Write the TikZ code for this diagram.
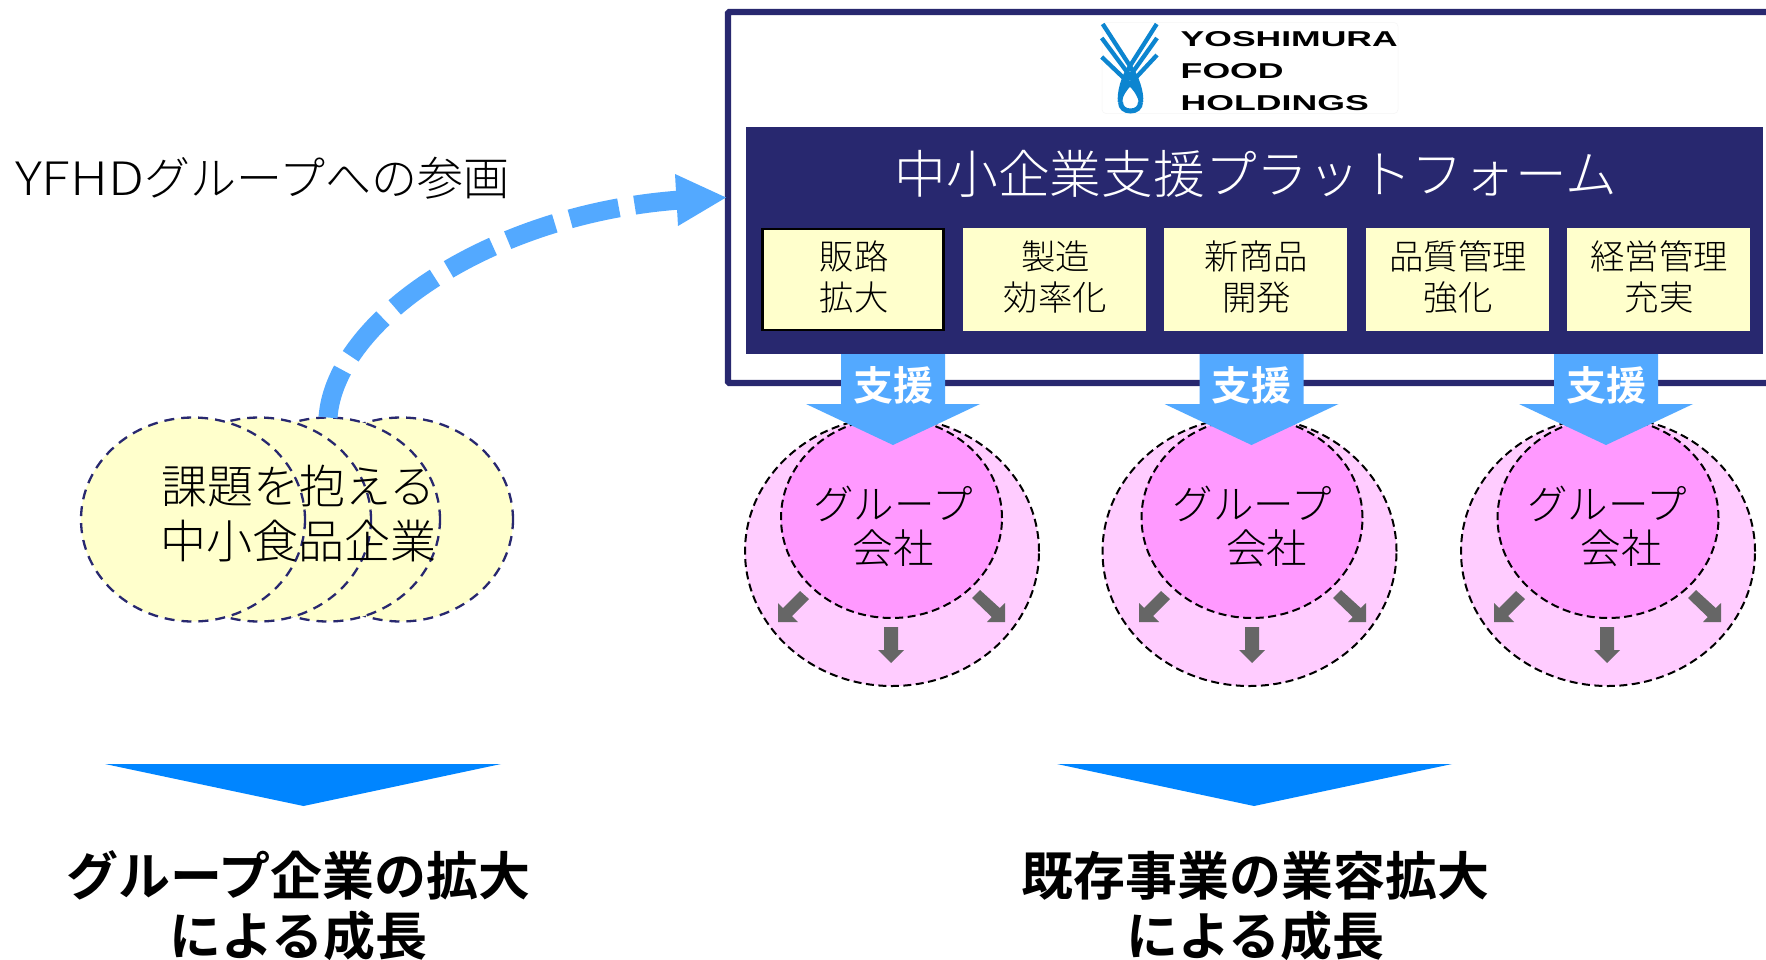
\documentclass[tikz,border=0pt]{standalone}
\usepackage{fontspec}
\usepackage{graphicx}
\usetikzlibrary{shapes.geometric,arrows.meta}
\setmainfont{Noto Sans CJK JP Light}[BoldFont=Noto Sans CJK JP Bold]
\newfontfamily\logofont{Liberation Sans}[BoldFont=Liberation Sans Bold]
\definecolor{navy}{HTML}{28286F}
\definecolor{skyb}{HTML}{53A9FF}
\definecolor{pink}{HTML}{FF99FF}
\definecolor{paleP}{HTML}{FFCCFF}
\definecolor{paleY}{HTML}{FFFFCC}
\definecolor{deepb}{HTML}{0085FF}
\definecolor{grayA}{HTML}{666666}
\definecolor{logoB}{HTML}{0C85D0}
\newcommand{\fs}[2]{\fontsize{#1}{#2}\selectfont}
\newcommand{\ct}[1]{\hspace*{2pt}\raisebox{2.5pt}[\height][\depth]{\parbox{178pt}{\centering #1}}}
\tikzset{
  yellowc/.style={ellipse,draw=navy,fill=paleY,line width=2.3pt,dash pattern=on 10pt off 7pt,minimum width=224pt,minimum height=204pt,inner sep=0pt,outer sep=0pt},
  outerc/.style={ellipse,draw=black,fill=paleP,line width=2pt,dash pattern=on 8pt off 4.5pt,minimum width=294pt,minimum height=269pt,inner sep=0pt,outer sep=0pt},
  innerc/.style={ellipse,draw=black,fill=pink,line width=2pt,dash pattern=on 8pt off 4.5pt,minimum width=221pt,minimum height=200pt,inner sep=0pt,outer sep=0pt},
  cellbox/.style={rectangle,fill=paleY,minimum width=183pt,minimum height=103pt,inner sep=0pt,outer sep=0pt,font=\fs{34.4}{41.5}},
  grouptext/.style={align=center,font=\fs{40.5}{44.5},inner sep=0pt},
  bigbold/.style={align=center,font=\fs{52}{60}\bfseries,inner sep=0pt},
  logotext/.style={anchor=west,inner sep=0pt,font=\logofont\bfseries},
  strand/.style={draw=logoB,line width=4.3pt},
}
\newcommand{\grp}[7]{%
  % #1 id, #2 outer cx, #3 inner cx, #4 blue arrow cx, #5 gray cx, #6 text cx, #7 shift of 2nd line
  \node[outerc] (out#1) at (#2,551.5) {};
  \node[innerc] (in#1) at (#3,518) {};
  \node[grouptext] (gt#1) at (#6,526.5) {グループ\\\hspace*{#7pt}会社};
  \fill[grayA] (#5-7,627) -- (#5+7,627) -- (#5+7,650) -- (#5+13,650) -- (#5,663) -- (#5-13,650) -- (#5-7,650) -- cycle;
  \fill[grayA] (#5-113,622) -- (#5-93,622) -- (#5-99,616) -- (#5-82,599) -- (#5-91,591) -- (#5-108,608) -- (#5-113,603) -- cycle;
  \fill[grayA] (#5+114,622) -- (#5+96,622) -- (#5+100.7,617) -- (#5+81,598) -- (#5+89,590) -- (#5+108.7,608) -- (#5+114,603) -- cycle;
  \fill[skyb] (#4-52,354) -- (#4+52,354) -- (#4+52,404) -- (#4+87,404) -- (#4,445) -- (#4-87,404) -- (#4-52,404) -- cycle;
  \node[text=white,font=\fs{40}{40}\bfseries,inner sep=0pt] (sup#1) at (#4,385) {支援};
}
\begin{document}
\begin{tikzpicture}[x=1pt,y=-1pt]
\useasboundingbox (0,0) rectangle (1766,959);
\clip (0,0) rectangle (1766,959);
\fill[white] (0,0) rectangle (1766,959);
% frame
\node[draw=navy,line width=6.4pt,rounded corners=1.5pt,minimum width=1072pt,minimum height=371pt,inner sep=0pt,outer sep=0pt] (frame) at (1264,197.5) {};
% logo
\node[draw=black!4,fill=white,rounded corners=4pt,line width=0.5pt,minimum width=296pt,minimum height=91pt,inner sep=0pt,outer sep=0pt] (logo) at (1250,68) {};
\draw[strand] (1102.7,24) -- (1130,66) .. controls (1137,78) and (1142,92) .. (1141,102);
\draw[strand] (1101.7,38) -- (1130,76) .. controls (1136,84) and (1140,92) .. (1141,102);
\draw[strand] (1101.7,57) -- (1130,84) .. controls (1135,88) and (1140,96) .. (1141,102);
\draw[strand] (1156.7,24) -- (1130,66) .. controls (1123,78) and (1119,92) .. (1120,102);
\draw[strand] (1157,38) -- (1130,76) .. controls (1124,84) and (1120,92) .. (1120,102);
\draw[strand] (1157,55) -- (1130,84) .. controls (1125,88) and (1120,96) .. (1120,102);
\draw[draw=logoB,line width=5pt] (1120.5,102) .. controls (1120.5,108) and (1125,111) .. (1130.5,111) .. controls (1136,111) and (1140.5,108) .. (1140.5,102);
\node[logotext] (ln1) at (1180.5,39.5) {\resizebox{217pt}{15pt}{YOSHIMURA}};
\node[logotext] (ln2) at (1180.5,71.5) {\resizebox{103pt}{15pt}{FOOD}};
\node[logotext] (ln3) at (1180.5,103) {\resizebox{188pt}{15pt}{HOLDINGS}};
% panel
\node[fill=navy,minimum width=1017pt,minimum height=227pt,inner sep=0pt,outer sep=0pt] (panel) at (1254.5,240.5) {};
\node[text=white,font=\fs{51.7}{52},inner sep=0pt] (ptitle) at (1256,174) {中小企業支援プラットフォーム};
\node[cellbox,draw=black,line width=2.5pt,minimum width=181pt,minimum height=101pt] (cell1) at (853,279.5) {\ct{販路\\拡大}};
\node[cellbox] (cell2) at (1054.5,279.5) {\ct{製造\\効率化}};
\node[cellbox] (cell3) at (1255.5,279.5) {\ct{新商品\\開発}};
\node[cellbox] (cell4) at (1457,279.5) {\ct{品質管理\\強化}};
\node[cellbox] (cell5) at (1658,279.5) {\ct{経営管理\\充実}};
% groups
\grp{a}{892}{891.5}{893}{891}{893}{0}
\grp{b}{1249.5}{1252}{1251.5}{1252}{1252.5}{28}
\grp{c}{1608}{1608}{1606}{1607}{1607}{28}
% yellow circles
\node[yellowc] (y4) at (401,519.5) {};
\node[yellowc] (y3) at (328,519.5) {};
\node[yellowc] (y2) at (259,519.5) {};
\node[yellowc] (y1) at (193,519.5) {};
\node[align=center,font=\fs{46}{55},inner sep=0pt] (ytext) at (298.5,513.5) {課題を抱える\\中小食品企業};
% heading
\node[anchor=west,font=\fs{46}{45},inner sep=0pt] (yfhd) at (15,178.5) {\scalebox{1.16}[1]{YFHD}グループへの参画};
% curved arrow
\coordinate (bend) at (680,200);
\draw[skyb,line width=19pt,dash pattern=on 50pt off 16pt] (y3.north) .. controls (335,320) and (490,214) .. (bend);
\fill[skyb] ([xshift=-2pt]frame.west) -- (678,226) -- (675,174) -- cycle;
% bottom
\fill[deepb] (105,764) -- (501,764) -- (303.5,806) -- cycle;
\fill[deepb] (1057,764) -- (1452,764) -- (1254,806) -- cycle;
\node[bigbold] (bl) at (298.5,906) {グループ企業の拡大\\による成長};
\node[bigbold] (br) at (1255.5,906) {既存事業の業容拡大\\による成長};
\end{tikzpicture}
\end{document}
